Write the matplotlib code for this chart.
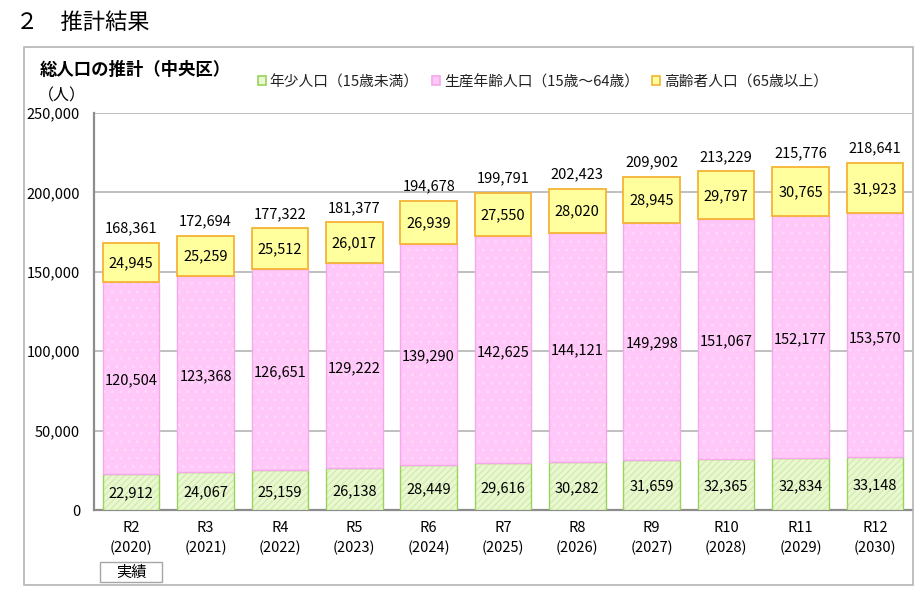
import matplotlib
matplotlib.use("Agg")
import matplotlib.pyplot as plt
from matplotlib.patches import Rectangle
import numpy as np

plt.rcParams['font.family'] = ['Noto Sans CJK JP', 'DejaVu Sans']
plt.rcParams['hatch.linewidth'] = 0.8

years = ["R2\n(2020)", "R3\n(2021)", "R4\n(2022)", "R5\n(2023)", "R6\n(2024)",
         "R7\n(2025)", "R8\n(2026)", "R9\n(2027)", "R10\n(2028)", "R11\n(2029)",
         "R12\n(2030)"]
young = [22912, 24067, 25159, 26138, 28449, 29616, 30282, 31659, 32365, 32834, 33148]
working = [120504, 123368, 126651, 129222, 139290, 142625, 144121, 149298, 151067,
           152177, 153570]
elderly = [24945, 25259, 25512, 26017, 26939, 27550, 28020, 28945, 29797, 30765, 31923]
totals = [168361, 172694, 177322, 181377, 194678, 199791, 202423, 209902, 213229,
          215776, 218641]
series_names = ["年少人口（15歳未満）", "生産年齢人口（15歳～64歳）", "高齢者人口（65歳以上）"]

W, H = 923, 594
fig = plt.figure(figsize=(W / 100, H / 100), dpi=100)

# outer chart frame
fig.patches.append(Rectangle((24 / W, 1 - 585 / H), (913 - 24) / W, (585 - 47) / H,
                             transform=fig.transFigure, fill=False,
                             edgecolor="#b4b4b4", linewidth=1.2))

ax = fig.add_axes([94 / W, 1 - 510 / H, (912 - 94) / W, (510 - 113) / H])

x = np.arange(len(years))
young = np.array(young)
working = np.array(working)
elderly = np.array(elderly)
bw = 0.76

# fill + faint pattern first (hatch takes the edge colour), outline on top
ax.bar(x, young, bw, color="#eaf8d2", edgecolor="#cfeaa8", linewidth=0,
       hatch="/////", zorder=3)
ax.bar(x, young, bw, fill=False, edgecolor="#9ad35a", linewidth=1.0, zorder=3)
ax.bar(x, working, bw, bottom=young, color="#ffc8f8", edgecolor="#ffd9fb",
       linewidth=0, hatch="..", zorder=3)
ax.bar(x, working, bw, bottom=young, fill=False, edgecolor="#f5a8ea", linewidth=1.0,
       zorder=3)
ax.bar(x, elderly, bw, bottom=young + working, color="#ffff9e", edgecolor="#f5b335",
       linewidth=1.3, zorder=3)

# legend proxies
h_young = Rectangle((0, 0), 1, 1, facecolor="#eaf8d2", edgecolor="#9ad35a", linewidth=1.2)
h_work = Rectangle((0, 0), 1, 1, facecolor="#ffc8f8", edgecolor="#f5a8ea", linewidth=1.2)
h_old = Rectangle((0, 0), 1, 1, facecolor="#ffff9e", edgecolor="#f5b335", linewidth=1.2)

fs = 10.5
for i in range(len(x)):
    ax.text(x[i], young[i] / 2 - 1200, f"{young[i]:,}", ha="center", va="center",
            fontsize=fs, zorder=4)
    ax.text(x[i], young[i] + working[i] / 2 - 1500, f"{working[i]:,}", ha="center",
            va="center", fontsize=fs, zorder=4)
    ax.text(x[i], young[i] + working[i] + elderly[i] / 2 - 600, f"{elderly[i]:,}",
            ha="center", va="center", fontsize=fs, zorder=4)
    ax.text(x[i], totals[i] + 4500, f"{totals[i]:,}", ha="center", va="bottom",
            fontsize=fs, zorder=4)

ax.set_xlim(-0.5, len(x) - 0.5)
ax.set_ylim(0, 250000)
ax.set_yticks(np.arange(0, 250001, 50000))
ax.set_yticklabels([f"{v:,}" for v in range(0, 250001, 50000)], fontsize=10.5)
ax.set_xticks(x)
ax.set_xticklabels(years, fontsize=10.5, linespacing=1.45)
ax.tick_params(axis="x", length=0, pad=8)
ax.tick_params(axis="y", length=0, pad=10)
ax.grid(axis="y", color="#b4b4b4", linewidth=1.2, zorder=0)
for s in ["top", "right"]:
    ax.spines[s].set_visible(False)
for s in ["left", "bottom"]:
    ax.spines[s].set_color("#8c8c8c")
    ax.spines[s].set_linewidth(1.6)

# texts
fig.text(16 / W, 1 - 22 / H, "２　推計結果", fontsize=16, va="center", ha="left")
fig.text(40 / W, 1 - 70 / H, "総人口の推計（中央区）", fontsize=12.5, fontweight="bold",
         va="center", ha="left")
fig.text(38 / W, 1 - 96 / H, "（人）", fontsize=11.5, va="center", ha="left")

ax.legend([h_young, h_work, h_old], series_names, loc="upper left",
          bbox_to_anchor=(252 / W, 1 - 69 / H), bbox_transform=fig.transFigure,
          ncol=3, frameon=False, fontsize=10.6, handlelength=0.55, handleheight=0.55,
          handletextpad=0.25, columnspacing=0.9, borderaxespad=0, labelcolor="#222222")

# "実績" box under R2
fig.patches.append(Rectangle((100 / W, 1 - 582 / H), 62 / W, 20 / H,
                             transform=fig.transFigure, facecolor="white",
                             edgecolor="#a6a6a6", linewidth=1))
fig.text(131 / W, 1 - 572 / H, "実績", fontsize=11, ha="center", va="center")

fig.savefig("out.png", dpi=100)
